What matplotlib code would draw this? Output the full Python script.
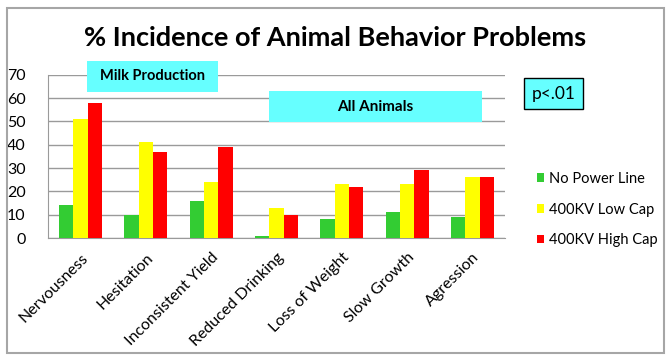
import matplotlib
matplotlib.use("Agg")
import matplotlib.pyplot as plt
from matplotlib.patches import Rectangle
import numpy as np

categories = ["Nervousness", "Hesitation", "Inconsistent Yield", "Reduced Drinking",
              "Loss of Weight", "Slow Growth", "Agression"]
no_power = [14, 10, 16, 1, 8, 11, 9]
low_cap = [51, 41, 24, 13, 23, 23, 26]
high_cap = [58, 37, 39, 10, 22, 29, 26]
series_names = ["No Power Line", "400KV Low Cap", "400KV High Cap"]
colors = ["#33CC33", "#FFFF00", "#FF0000"]
yticks = [0, 10, 20, 30, 40, 50, 60, 70]

plt.rcParams['font.family'] = ['Lato', 'DejaVu Sans']

W, H = 670, 360
fig = plt.figure(figsize=(W / 100, H / 100), dpi=100)

def fx(px):
    return px / W

def fy(py):
    return 1 - py / H

# outer border
fig.patches.append(Rectangle((fx(6.5), fy(353)), fx(663.5) - fx(6.5), fy(7.5) - fy(353),
                             transform=fig.transFigure, fill=False, edgecolor="#a6a6a6", lw=1.5))

ax = fig.add_axes([fx(48), fy(238), fx(505) - fx(48), fy(74.7) - fy(238)])
x = np.arange(len(categories))
bw = 0.22
for i, (vals, name, c) in enumerate(zip([no_power, low_cap, high_cap], series_names, colors)):
    ax.bar(x + (i - 1) * bw, vals, bw, color=c, label=name, zorder=3)

ax.set_ylim(0, 70)
ax.set_xlim(-0.5, len(categories) - 0.5)
ax.set_yticks(yticks)
ax.yaxis.grid(True, color="#9a9a9a", lw=1, zorder=0)
ax.set_axisbelow(True)
for s in ["top", "right"]:
    ax.spines[s].set_visible(False)
for s in ["left", "bottom"]:
    ax.spines[s].set_color("#9a9a9a")
ax.tick_params(axis="both", length=0, labelsize=11.5, colors="black")
ax.tick_params(axis="y", pad=16)
ax.set_xticks(x)
ax.set_xticklabels(categories, rotation=45, ha="right", rotation_mode="anchor", fontsize=11.5)
ax.tick_params(axis="x", pad=9)

# title
fig.text(fx(335), fy(38), "% Incidence of Animal Behavior Problems", ha="center", va="center",
         fontsize=19.5, fontweight="bold")

def box(x0, y0, x1, y1, text, bold, edge=None, fs=10):
    fig.patches.append(Rectangle((fx(x0), fy(y1)), fx(x1) - fx(x0), fy(y0) - fy(y1),
                                 transform=fig.transFigure, facecolor="#66FFFF",
                                 edgecolor=edge if edge else "none", lw=1 if edge else 0, zorder=5))
    fig.text(fx((x0 + x1) / 2), fy((y0 + y1) / 2), text, ha="center", va="center",
             fontsize=fs, fontweight="bold" if bold else "normal", zorder=6)

box(87, 61, 218, 92, "Milk Production", True, fs=10.5)
box(269, 91, 482, 122, "All Animals", True, fs=11)
box(524, 78, 583, 109, "p<.01", False, edge="black", fs=12.5)

leg = fig.legend(loc="upper left", bbox_to_anchor=(fx(531), fy(166)), frameon=False,
                 fontsize=10.5, handlelength=0.5, handleheight=0.5, handletextpad=0.35,
                 labelspacing=1.15, borderaxespad=0)

fig.savefig("out.png", dpi=100)
